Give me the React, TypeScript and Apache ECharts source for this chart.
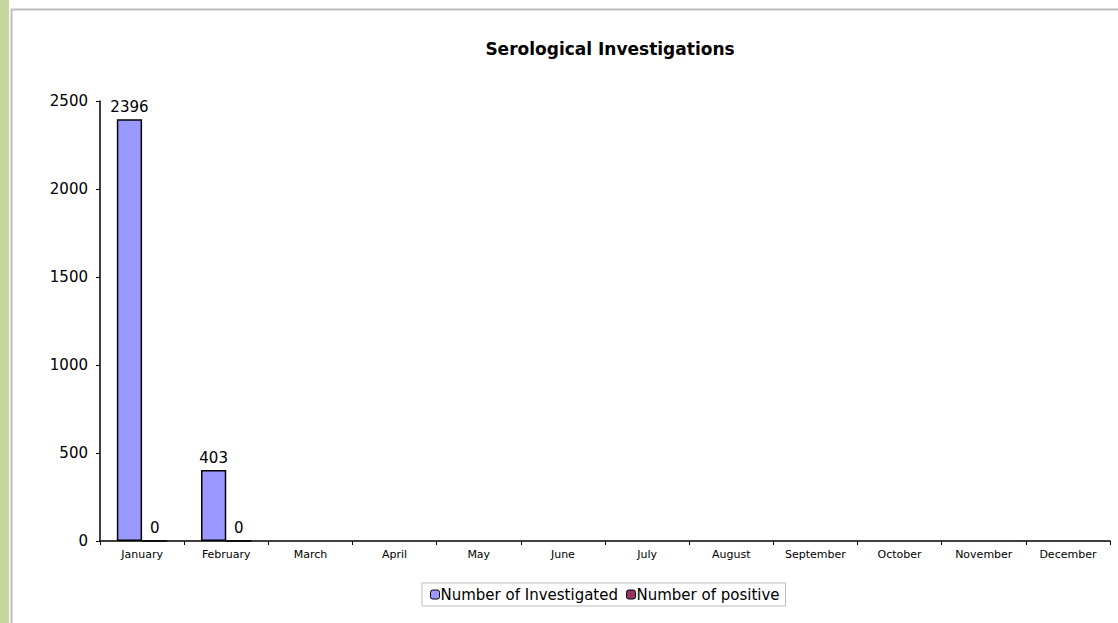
import React, { useEffect, useRef } from "react";
import * as echarts from "echarts";

const months = ["January", "February", "March", "April", "May", "June", "July", "August", "September", "October", "November", "December"];
const investigated: (number | null)[] = [2396, 403, null, null, null, null, null, null, null, null, null, null];
const positive: (number | null)[] = [0, 0, null, null, null, null, null, null, null, null, null, null];
const yTicks = [0, 500, 1000, 1500, 2000, 2500];

export default function App() {
  const ref = useRef<HTMLDivElement>(null);
  useEffect(() => {
    const chart = echarts.init(ref.current!, null, { renderer: "svg" });
    const font = "DejaVu Sans, Verdana, sans-serif";
    chart.setOption({
      animation: false,
      backgroundColor: "#ffffff",
      textStyle: { fontFamily: font },
      title: {
        text: "Serological Investigations",
        left: 605,
        top: 35,
        textAlign: "center",
        textStyle: { fontSize: 17, fontWeight: "bold", color: "#000", fontFamily: font },
      },
      graphic: [
        { type: "rect", shape: { x: 0, y: 0, width: 9, height: 623 }, style: { fill: "#c6d89e" }, silent: true },
        { type: "rect", shape: { x: 11.5, y: 9.5, width: 1120, height: 630 }, style: { fill: "none", stroke: "#bdbdbd", lineWidth: 2 }, silent: true },
      ],
      legend: {
        left: 422,
        top: 583,
        itemWidth: 9,
        itemHeight: 9,
        itemGap: 8,
        padding: [4, 6, 4, 8],
        borderColor: "#bbbbbb",
        borderWidth: 1,
        textStyle: { fontSize: 15, color: "#000", fontFamily: font, padding: [0, 0, 0, -4] },
        data: [
          { name: "Number of Investigated", itemStyle: { borderColor: "#000", borderWidth: 1 } },
          { name: "Number of positive", itemStyle: { borderColor: "#000", borderWidth: 1 } },
        ],
      },
      grid: { left: 100, right: 8, top: 101, bottom: 82, containLabel: false },
      xAxis: {
        type: "category",
        data: months,
        axisLine: { lineStyle: { color: "#000", width: 1.5 } },
        axisTick: { show: true, lineStyle: { color: "#000" }, length: 4 },
        axisLabel: { fontSize: 11, color: "#000", margin: 8, interval: 0, fontFamily: font },
      },
      yAxis: {
        type: "value",
        min: 0,
        max: 2500,
        interval: 500,
        axisLine: { show: true, lineStyle: { color: "#000", width: 1.5 } },
        axisTick: { show: true, length: 4, lineStyle: { color: "#000" } },
        splitLine: { show: false },
        axisLabel: {
          fontSize: 15,
          color: "#000",
          margin: 12,
          fontFamily: font,
          formatter: (v: number) => (yTicks.includes(v) ? String(v) : ""),
        },
      },
      series: [
        {
          name: "Number of Investigated",
          type: "bar",
          data: investigated,
          barGap: "0%",
          barCategoryGap: "40%",
          itemStyle: { color: "#9999ff", borderColor: "#000", borderWidth: 1.5 },
          label: { show: true, position: "top", fontSize: 15, color: "#000", distance: 5, fontFamily: font },
        },
        {
          name: "Number of positive",
          type: "bar",
          data: positive,
          itemStyle: { color: "#993366", borderColor: "#000", borderWidth: 1.5 },
          label: { show: true, position: "top", fontSize: 15, color: "#000", distance: 5, fontFamily: font },
        },
      ],
    });
    return () => chart.dispose();
  }, []);
  return <div ref={ref} style={{ position: "fixed", left: 0, top: 0, width: 1118, height: 623 }} />;
}
